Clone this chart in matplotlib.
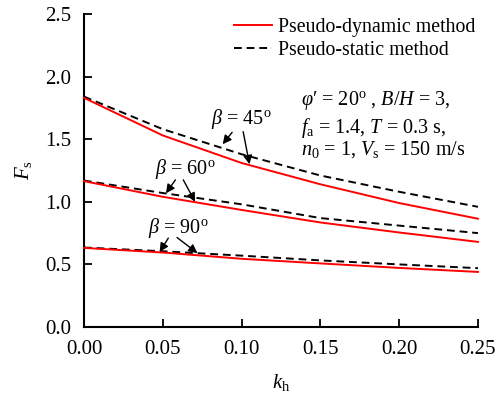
import numpy as np
import matplotlib
matplotlib.use("Agg")
import matplotlib.pyplot as plt

plt.rcParams['font.family'] = 'Liberation Serif'
plt.rcParams['mathtext.fontset'] = 'custom'
plt.rcParams['mathtext.rm'] = 'Liberation Serif'
plt.rcParams['mathtext.it'] = 'Liberation Serif:italic'

kh = [0.0, 0.05, 0.10, 0.15, 0.20, 0.25]

# pseudo-dynamic (red) / pseudo-static (dashed)
dyn_45 = [1.83, 1.53, 1.31, 1.14, 0.99, 0.865]
sta_45 = [1.84, 1.58, 1.38, 1.21, 1.08, 0.96]
dyn_60 = [1.165, 1.04, 0.935, 0.835, 0.755, 0.68]
sta_60 = [1.17, 1.07, 0.98, 0.87, 0.81, 0.75]
dyn_90 = [0.632, 0.595, 0.545, 0.508, 0.472, 0.44]
sta_90 = [0.635, 0.605, 0.57, 0.532, 0.50, 0.47]

fig = plt.figure(figsize=(5.01, 3.94), dpi=100)
ax = fig.add_axes([0.1677, 0.170, 0.7863, 0.7945])

ls_dash = (0, (4, 2.5))
ax.plot(kh, dyn_45, color='red', lw=1.4, label='Pseudo-dynamic method', clip_on=False, zorder=3)
ax.plot(kh, sta_45, color='black', lw=1.4, ls=ls_dash, label='Pseudo-static method', clip_on=False)
ax.plot(kh, dyn_60, color='red', lw=1.4, clip_on=False, zorder=3)
ax.plot(kh, sta_60, color='black', lw=1.4, ls=ls_dash, clip_on=False)
ax.plot(kh, dyn_90, color='red', lw=1.4, clip_on=False, zorder=3)
ax.plot(kh, sta_90, color='black', lw=1.4, ls=ls_dash, clip_on=False)

ax.set_xlim(0, 0.25)
ax.set_ylim(0, 2.5)
ax.set_xticks([0.0, 0.05, 0.10, 0.15, 0.20, 0.25])
ax.set_xticklabels(['0.00', '0.05', '0.10', '0.15', '0.20', '0.25'])
ax.set_yticks([0.0, 0.5, 1.0, 1.5, 2.0, 2.5])
ax.set_yticklabels(['0.0', '0.5', '1.0', '1.5', '2.0', '2.5'])
ax.tick_params(direction='in', length=6, width=1.3, labelsize=15, pad=9)
for s in ['top', 'right']:
    ax.spines[s].set_visible(False)
for s in ['left', 'bottom']:
    ax.spines[s].set_linewidth(1.5)

ax.set_xlabel(r'$k_{\rm h}$', fontsize=15, labelpad=10)
ax.set_ylabel(r'$F_{\rm s}$', fontsize=15, labelpad=8)

leg = ax.legend(loc='upper right', bbox_to_anchor=(1.04, 1.045), frameon=False,
                fontsize=14.3, handlelength=1.9, handletextpad=0.35, labelspacing=0.2)

fs = 14.5
ax.text(0.138, 1.81, r"$\varphi$′ = 20$^{\rm o}$ , $B/H$ = 3,", fontsize=fs, va='center')
ax.text(0.138, 1.59, r"$f_{\rm a}$ = 1.4, $T$ = 0.3 s,", fontsize=fs, va='center')
ax.text(0.138, 1.42, r"$n_0$ = 1, $V_{\rm s}$ = 150 m/s", fontsize=fs, va='center')

arrow = dict(arrowstyle='-|>', color='black', lw=1.0, mutation_scale=13, shrinkA=0, shrinkB=0)

ax.text(0.1, 1.66, r'$\beta$ = 45$^{\rm o}$', fontsize=fs, ha='center', va='center')
ax.annotate('', xy=(0.088, 1.46), xytext=(0.094, 1.555), arrowprops=arrow)
ax.annotate('', xy=(0.105, 1.30), xytext=(0.101, 1.56), arrowprops=arrow)

ax.text(0.064, 1.26, r'$\beta$ = 60$^{\rm o}$', fontsize=fs, ha='center', va='center')
ax.annotate('', xy=(0.052, 1.068), xytext=(0.058, 1.175), arrowprops=arrow)
ax.annotate('', xy=(0.0705, 1.0), xytext=(0.063, 1.175), arrowprops=arrow)

ax.text(0.060, 0.79, r'$\beta$ = 90$^{\rm o}$', fontsize=fs, ha='center', va='center')
ax.annotate('', xy=(0.048, 0.60), xytext=(0.0535, 0.71), arrowprops=arrow)
ax.annotate('', xy=(0.072, 0.59), xytext=(0.059, 0.715), arrowprops=arrow)

fig.savefig('out.png', dpi=100)
